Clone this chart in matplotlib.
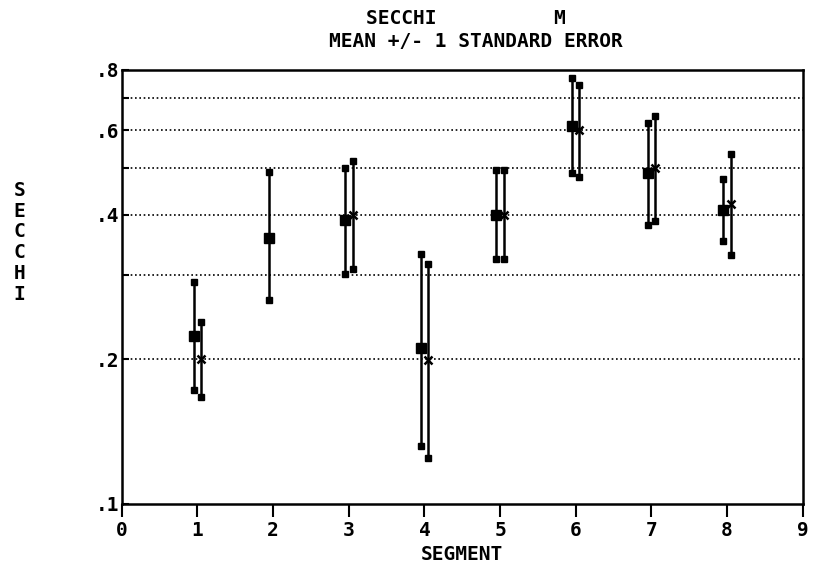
import numpy as np
import matplotlib
matplotlib.use('Agg')
import matplotlib.pyplot as plt

# ---- data ----
segments = [1, 2, 3, 4, 5, 6, 7, 8]
# series 1 (filled square)
sq_seg = [1, 2, 3, 4, 5, 6, 7, 8]
sq_mean = [0.224, 0.358, 0.390, 0.211, 0.399, 0.613, 0.488, 0.409]
sq_upper = [0.290, 0.491, 0.500, 0.332, 0.496, 0.771, 0.620, 0.475]
sq_lower = [0.173, 0.266, 0.301, 0.132, 0.323, 0.488, 0.381, 0.353]
# series 2 (x marker), no value at segment 2
x_seg = [1, 3, 4, 5, 6, 7, 8]
x_mean = [0.200, 0.400, 0.199, 0.399, 0.600, 0.500, 0.421]
x_upper = [0.239, 0.517, 0.316, 0.496, 0.745, 0.642, 0.535]
x_lower = [0.167, 0.308, 0.1245, 0.323, 0.478, 0.388, 0.330]

ytick_vals = [0.1, 0.2, 0.3, 0.4, 0.5, 0.6, 0.7, 0.8]
ytick_labels = ['.1', '.2', '', '.4', '', '.6', '', '.8']
grid_vals = [0.2, 0.3, 0.4, 0.5, 0.6, 0.7]
xticks = list(range(10))

font = 'DejaVu Sans Mono'
plt.rcParams['font.family'] = font
plt.rcParams['font.weight'] = 'bold'

fig = plt.figure(figsize=(8.17, 5.70), dpi=100)
ax = fig.add_axes([0.149, 0.1158, 0.8335, 0.7614])

ax.set_yscale('log')
ax.set_xlim(0, 9)
ax.set_ylim(0.1, 0.8)

for g in grid_vals:
    ax.axhline(g, color='black', linestyle=(0, (1, 1.6)), linewidth=1.2, zorder=1)

off = 0.05
sx = np.array(sq_seg) - off
xx = np.array(x_seg) + off

ax.vlines(sx, sq_lower, sq_upper, color='black', linewidth=1.8, zorder=3)
ax.plot(sx, sq_upper, 's', color='black', ms=4, zorder=4)
ax.plot(sx, sq_lower, 's', color='black', ms=4, zorder=4)
ax.plot(sx, sq_mean, 's', color='black', ms=7, zorder=5)

ax.vlines(xx, x_lower, x_upper, color='black', linewidth=1.8, zorder=3)
ax.plot(xx, x_upper, 's', color='black', ms=4, zorder=4)
ax.plot(xx, x_lower, 's', color='black', ms=4, zorder=4)
ax.plot(xx, x_mean, 'x', color='black', ms=6, mew=1.8, zorder=5)

ax.minorticks_off()
ax.set_yticks(ytick_vals)
ax.set_yticklabels(ytick_labels)
ax.set_xticks(xticks)
ax.set_xticklabels([str(t) for t in xticks])
ax.tick_params(axis='y', direction='in', length=5, width=1.5, pad=2, labelsize=14)
ax.tick_params(axis='x', direction='out', length=9, width=1.5, pad=3, labelsize=14)
for s in ax.spines.values():
    s.set_linewidth(1.8)

ax.set_xlabel('SEGMENT', fontsize=14, fontweight='bold', labelpad=4)

fig.text(0.570, 0.968, 'SECCHI          M', ha='center', va='center',
         fontsize=14, fontweight='bold')
fig.text(0.582, 0.928, 'MEAN +/- 1 STANDARD ERROR', ha='center', va='center',
         fontsize=14, fontweight='bold')
fig.text(0.024, 0.575, '\n'.join('SECCHI'), ha='center', va='center',
         fontsize=14, fontweight='bold', linespacing=1.12)

plt.savefig('out.png', dpi=100)
